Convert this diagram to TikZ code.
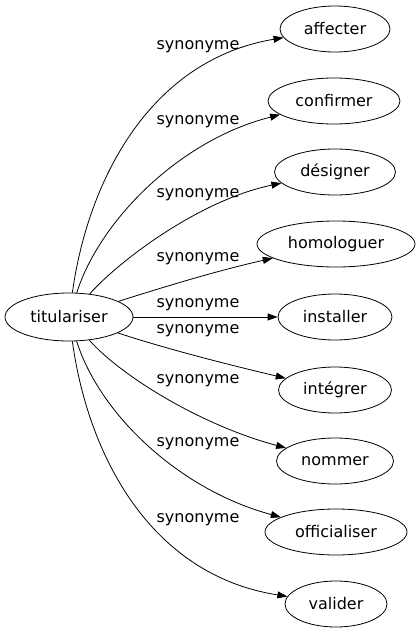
\documentclass[tikz,border=0pt]{standalone}
\usepackage{fontspec}
\setmainfont{DejaVu Sans}
\usetikzlibrary{shapes.geometric,arrows.meta}
\begin{document}
\begin{tikzpicture}[x=1pt,y=-1pt,
  word/.style={draw,ellipse,inner sep=0pt,minimum height=46pt,line width=0.8pt,font=\fontsize{16}{19}\selectfont},
  rel/.style={font=\fontsize{16}{19}\selectfont,inner sep=0pt},
  syn/.style={draw,line width=0.8pt,-{Triangle[length=10pt,width=7pt]}}]
\useasboundingbox (0,0) rectangle (417,635);
\node[word,minimum width=128pt,minimum height=48pt] (t) at (69,317) {titulariser};
\node[word,minimum width=110pt] (a) at (335,29) {affecter};
\node[word,minimum width=132pt] (b) at (334,101) {confirmer};
\node[word,minimum width=121pt] (c) at (335,172) {désigner};
\node[word,minimum width=158pt] (d) at (336,244) {homologuer};
\node[word,minimum width=114pt] (e) at (335,317) {installer};
\node[word,minimum width=113pt] (f) at (335,390) {intégrer};
\node[word,minimum width=117pt] (g) at (335,461) {nommer};
\node[word,minimum width=142pt] (h) at (336,532) {officialiser};
\node[word,minimum width=102pt] (i) at (336,604) {valider};
\node[rel] (la) at (198,47) {synonyme};
\node[rel] (lb) at (198,122) {synonyme};
\node[rel] (lc) at (198,195) {synonyme};
\node[rel] (ld) at (198,259) {synonyme};
\node[rel] (le) at (198,305) {synonyme};
\node[rel] (lf) at (198,331) {synonyme};
\node[rel] (lg) at (198,381) {synonyme};
\node[rel] (lh) at (198,444) {synonyme};
\node[rel] (li) at (198,520) {synonyme};
\draw[syn] (t) .. controls (88,180) and (150,60) .. (a);
\draw[syn] (t) .. controls (100,220) and (180,140) .. (b);
\draw[syn] (t) .. controls (120,260) and (200,200) .. (c);
\draw[syn] (t) .. controls (170,285) and (220,270) .. (d);
\draw[syn] (t) -- (e);
\draw[syn] (t) .. controls (170,350) and (230,365) .. (f);
\draw[syn] (t) .. controls (120,375) and (200,425) .. (g);
\draw[syn] (t) .. controls (100,415) and (180,490) .. (h);
\draw[syn] (t) .. controls (88,455) and (150,575) .. (i);
\end{tikzpicture}
\end{document}
